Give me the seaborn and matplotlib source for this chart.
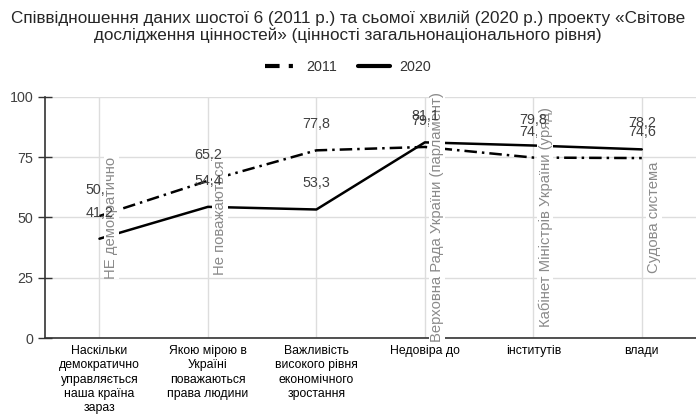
import pandas as pd
import matplotlib
matplotlib.use("Agg")
import matplotlib.pyplot as plt
import seaborn as sns
from matplotlib.lines import Line2D

# Chart data
categories = [
    "Наскільки\nдемократично\nуправляється\nнаша країна\nзараз",
    "Якою мірою в\nУкраїні\nповажаються\nправа людини",
    "Важливість\nвисокого рівня\nекономічного\nзростання",
    "Недовіра до",
    "інститутів",
    "влади",
]
values_2011 = [50.6, 65.2, 77.8, 79.2, 74.8, 74.6]
values_2020 = [41.2, 54.4, 53.3, 81.1, 79.8, 78.2]
labels_2011 = ["50,6", "65,2", "77,8", "79,2", "74,8", "74,6"]
labels_2020 = ["41,2", "54,4", "53,3", "81,1", "79,8", "78,2"]
item_notes = ["НЕ демократично", "Не поважаються", "", "Верховна Рада України (парламент)",
              "Кабінет Міністрів України (уряд)", "Судова система"]

df = pd.DataFrame({
    "pos": list(range(len(categories))) * 2,
    "value": values_2011 + values_2020,
    "year": ["2011"] * len(categories) + ["2020"] * len(categories),
})

sns.set_style("whitegrid")
plt.rcParams["font.family"] = ["Liberation Sans", "DejaVu Sans"]

fig = plt.figure(figsize=(6.96, 4.17), dpi=100)
ax = fig.add_axes([0.065, 0.189, 0.935, 0.579])

sns.lineplot(data=df, x="pos", y="value", hue="year", style="year",
             palette={"2011": "black", "2020": "black"},
             dashes={"2011": (5, 2, 1, 2), "2020": ""},
             linewidth=1.8, legend=False, ax=ax, zorder=2)

# value labels and rotated item notes
for i in range(len(categories)):
    ax.annotate(labels_2011[i], (i, values_2011[i]), xytext=(0, 26), textcoords="offset pixels",
                ha="center", va="center", fontsize=10.3, color="#404040", zorder=2.5)
    ax.annotate(labels_2020[i], (i, values_2020[i]), xytext=(0, 26), textcoords="offset pixels",
                ha="center", va="center", fontsize=10.3, color="#404040", zorder=4)
    if item_notes[i]:
        ax.annotate(item_notes[i], (i, 50), xytext=(12, 0), textcoords="offset pixels",
                    ha="center", va="center", rotation=90, fontsize=10.7, color="#8a8a8a",
                    bbox=dict(facecolor="white", edgecolor="none", pad=0.5), zorder=3,
                    annotation_clip=False)

ax.set_xlim(-0.5, 5.5)
ax.set_ylim(0, 100)
ax.set_xticks(range(len(categories)))
ax.set_xticklabels(categories, fontsize=8.8, linespacing=1.25, color="black")
ax.set_yticks([0, 25, 50, 75, 100])
ax.tick_params(axis="y", labelsize=10.3, labelcolor="#404040", direction="inout", length=10,
               width=1, color="#333333", left=True)
ax.tick_params(axis="x", length=0, pad=5)
ax.set_xlabel("")
ax.set_ylabel("")
ax.grid(color="#dddddd", linewidth=1)
for side in ["top", "right"]:
    ax.spines[side].set_visible(False)
ax.spines["left"].set_color("#333333")
ax.spines["bottom"].set_color("#333333")
ax.spines["left"].set_linewidth(1.2)
ax.spines["bottom"].set_linewidth(1.2)

fig.text(0.5, 0.935, "Співвідношення даних шостої 6 (2011 р.) та сьомої хвилій (2020 р.) проекту «Світове\n"
         "дослідження цінностей» (цінності загальнонаціонального рівня)",
         ha="center", va="center", fontsize=12.3, linespacing=1.1)

handles = [Line2D([], [], color="black", linewidth=3, linestyle=(0, (3.5, 2.2, 1, 2.2))),
           Line2D([], [], color="black", linewidth=3)]
fig.legend(handles, ["2011", "2020"], loc="center", bbox_to_anchor=(0.5, 0.84), ncol=2,
           frameon=False, fontsize=10.3, handlelength=2.3, columnspacing=1.4, handletextpad=0.6,
           labelcolor="#333333")

fig.savefig("out.png", dpi=100)
